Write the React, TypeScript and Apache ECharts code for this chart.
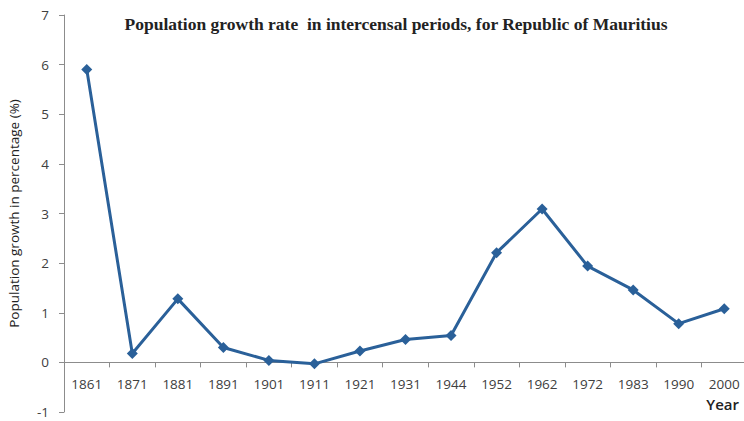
import React, { useEffect, useRef } from "react";
import * as echarts from "echarts";

const years = ["1861", "1871", "1881", "1891", "1901", "1911", "1921", "1931", "1944", "1952", "1962", "1972", "1983", "1990", "2000"];
const growth = [5.9, 0.18, 1.28, 0.3, 0.04, -0.03, 0.23, 0.46, 0.54, 2.21, 3.09, 1.94, 1.46, 0.78, 1.08];
const yTicks = { min: -1, max: 7, interval: 1 };
const titleText = "Population growth rate  in intercensal periods, for Republic of Mauritius";
const yAxisTitle = "Population growth in percentage (%)";
const xAxisTitle = "Year";

export default function App() {
  const ref = useRef<HTMLDivElement>(null);
  useEffect(() => {
    const chart = echarts.init(ref.current!, null, { renderer: "svg" });
    const axisColor = "#8c8c8c";
    const textColor = "#404040";
    const gridTop = 15;
    const gridBottom = 9;
    const gridHeight = 421 - gridTop - gridBottom;
    const zeroOffset = (gridHeight * (0 - yTicks.min)) / (yTicks.max - yTicks.min);
    chart.setOption({
      animation: false,
      backgroundColor: "#ffffff",
      title: {
        text: titleText,
        left: 391,
        top: 10,
        textAlign: "center",
        textStyle: { fontFamily: "Liberation Serif", fontWeight: "bold", fontSize: 17.5, color: "#222" },
      },
      grid: { left: 64, right: -3, top: gridTop, bottom: gridBottom, containLabel: false, outerBoundsMode: "none" },
      xAxis: {
        type: "category",
        data: years,
        boundaryGap: true,
        offset: -zeroOffset,
        axisLine: { onZero: false, lineStyle: { color: axisColor, width: 1 } },
        axisTick: { show: true, length: 5, lineStyle: { color: axisColor } },
        axisLabel: { margin: 15, fontFamily: "Open Sans", fontSize: 13.5, color: textColor, interval: 0 },
      },
      yAxis: {
        type: "value",
        min: yTicks.min,
        max: yTicks.max,
        interval: yTicks.interval,
        splitLine: { show: false },
        axisLine: { show: true, lineStyle: { color: axisColor, width: 1 } },
        axisTick: { show: true, length: 5, lineStyle: { color: axisColor } },
        axisLabel: { margin: 15, fontFamily: "Open Sans", fontSize: 13.5, color: textColor },
        name: yAxisTitle,
        nameLocation: "middle",
        nameGap: 43,
        nameRotate: 90,
        nameTextStyle: { fontFamily: "Open Sans", fontSize: 13.5, color: "#222" },
      },
      graphic: [
        {
          type: "text",
          right: 5,
          top: 396,
          style: { text: xAxisTitle, fontFamily: "Open Sans", fontSize: 15, fontWeight: 600, fill: "#222" },
        },
      ],
      series: [
        {
          type: "line",
          data: growth,
          symbol: "diamond",
          symbolSize: 11,
          lineStyle: { color: "#2a6099", width: 3 },
          itemStyle: { color: "#2a6099" },
        },
      ],
    });
    return () => chart.dispose();
  }, []);
  return <div ref={ref} style={{ width: 744, height: 421, position: "absolute", left: 0, top: 0 }} />;
}
